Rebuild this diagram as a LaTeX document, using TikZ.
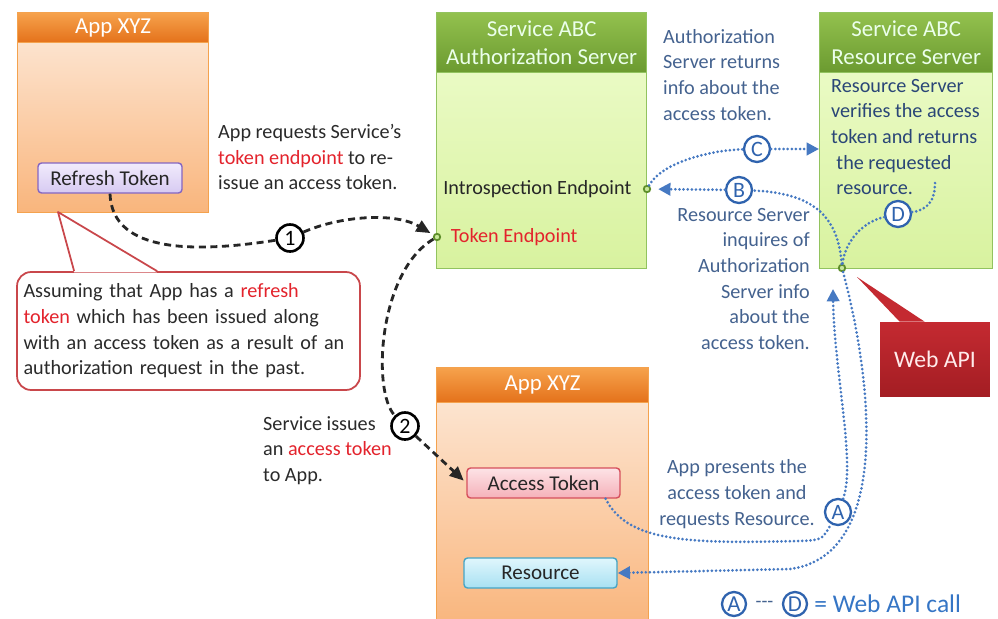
\documentclass[tikz,border=0pt]{standalone}
\usepackage{fontspec}
\setmainfont{Carlito}
\usetikzlibrary{arrows.meta,positioning,calc}
\definecolor{orhead1}{HTML}{F6A24C}
\definecolor{orhead2}{HTML}{E4711A}
\definecolor{orbody1}{HTML}{FDEBDC}
\definecolor{orbody2}{HTML}{F9B57C}
\definecolor{orline}{HTML}{F4A24E}
\definecolor{grhead1}{HTML}{93C14E}
\definecolor{grhead2}{HTML}{6B9A30}
\definecolor{grbody1}{HTML}{EFFDCF}
\definecolor{grbody2}{HTML}{D8F29F}
\definecolor{grline}{HTML}{92C35F}
\definecolor{rtfill1}{HTML}{F1EBFC}
\definecolor{rtfill2}{HTML}{D7CAF2}
\definecolor{rtline}{HTML}{8466C2}
\definecolor{atfill1}{HTML}{FDE3E6}
\definecolor{atfill2}{HTML}{F5B1B9}
\definecolor{atline}{HTML}{D6505D}
\definecolor{rsfill1}{HTML}{E0F6FC}
\definecolor{rsfill2}{HTML}{A8E1F2}
\definecolor{rsline}{HTML}{45A5C6}
\definecolor{notered}{HTML}{C9474B}
\definecolor{tokred}{HTML}{E3232C}
\definecolor{txtgray}{HTML}{2A2A2A}
\definecolor{labblue}{HTML}{44628F}
\definecolor{navy}{HTML}{2A4677}
\definecolor{callblue}{HTML}{4679C2}
\definecolor{circblue}{HTML}{2F63AE}
\definecolor{legblue}{HTML}{3575C5}
\definecolor{apired1}{HTML}{C42A31}
\definecolor{apired2}{HTML}{A31D23}
\definecolor{dotgreen}{HTML}{5E8E2A}
\definecolor{dotfill}{HTML}{C8E89A}
\begin{document}
\begin{tikzpicture}[x=0.02cm, y=-0.02cm,
        every node/.style={font=\fontsize{11.5}{14.6}\selectfont, text=txtgray},
        appbody/.style={draw=orline, line width=0.8pt, top color=orbody1, bottom color=orbody2, anchor=north west, inner sep=0pt},
        apphead/.style={draw=orline, line width=0.8pt, top color=orhead1, bottom color=orhead2, anchor=north, inner sep=0pt, text=white, font=\fontsize{13}{13}\selectfont},
        srvbody/.style={draw=grline, line width=0.8pt, top color=grbody1, bottom color=grbody2, anchor=north west, inner sep=0pt, minimum height=5.12cm},
        srvhead/.style={draw=grline, line width=0.8pt, top color=grhead1, bottom color=grhead2, anchor=north, inner sep=0pt, minimum height=1.2cm, align=center, text=white!92!green, font=\fontsize{13}{15.5}\selectfont},
        tokbox/.style={rounded corners=2pt, line width=0.8pt, minimum height=0.6cm, inner sep=0pt, text=black!85, font=\fontsize{12}{12}\selectfont},
        epdot/.style={circle, draw=dotgreen, fill=dotfill, line width=1pt, minimum size=0.13cm, inner sep=0pt},
        numcirc/.style={circle, draw=black, line width=1.5pt, fill=white, minimum size=0.54cm, inner sep=0pt, text=black, font=\fontsize{12.5}{12}\selectfont},
        letcirc/.style={circle, draw=circblue, line width=1.3pt, fill=white, minimum size=0.52cm, inner sep=0pt, text=circblue, font=\fontsize{12.5}{12}\selectfont},
        flow/.style={draw=black!85, line width=1.6pt, dash pattern=on 4pt off 2.6pt},
        call/.style={draw=callblue, line width=1.7pt, line cap=round, dash pattern=on 0pt off 2.35pt},
        arrowhd/.style={-{Triangle[length=8pt,width=7pt]}, shorten >=2pt},
        callhd/.style={-{Triangle[length=7pt,width=7pt]}}]
        \useasboundingbox (0,0) rectangle (998,619);

        % app boxes
        \node (app1) [appbody, minimum width=3.82cm, minimum height=4cm] at (17,12) {};
        \node (app1h) [apphead, minimum width=3.82cm, minimum height=0.6cm] at (app1.north) {App XYZ};
        \node (app2) [appbody, minimum width=4.24cm, minimum height=5.2cm] at (436,367) {};
        \node (app2h) [apphead, minimum width=4.24cm, minimum height=0.7cm] at (app2.north) {App XYZ};

        % servers
        \node (as) [srvbody, minimum width=4.2cm] at (436,12) {};
        \node (ash) [srvhead, minimum width=4.2cm] at (as.north) {Service ABC\\Authorization Server};
        \node (rs) [srvbody, minimum width=3.46cm] at (819,12) {};
        \node (rsh) [srvhead, minimum width=3.46cm] at (rs.north) {Service ABC\\Resource Server};

        % tokens
        \node (rt) [tokbox, draw=rtline, top color=rtfill1, bottom color=rtfill2, minimum width=2.88cm] at (110,178) {Refresh Token};
        \node (at) [tokbox, draw=atline, top color=atfill1, bottom color=atfill2, minimum width=3.06cm] at (543.5,483) {Access Token};
        \node (res) [tokbox, draw=rsline, top color=rsfill1, bottom color=rsfill2, minimum width=3.06cm] at (540.5,573) {Resource};

        % endpoints
        \node (intro) [epdot] at (647,189) {};
        \node (tokenep) [epdot] at (437,237) {};
        \node (wdot) [epdot] at (842,268) {};
        \node (introtxt) [anchor=east, text=black!85] at ([xshift=-3pt]intro.west) {Introspection Endpoint};
        \node (toktxt) [anchor=west, text=tokred] at ([xshift=2pt]tokenep.east) {Token Endpoint};

        % callout
        \node (note) [draw=notered, line width=1pt, rounded corners=8pt, fill=white, minimum width=6.86cm, minimum height=2.36cm, text width=6.6cm, inner xsep=0.13cm, align=left] at (188.5,331) {Assuming that App has a {\color{tokred}refresh}\\{\color{tokred}token} which has been issued along\\with an access token as a result of an\\authorization request in the past.};
        \coordinate (notetip) at (58,212);
        \fill[white] ([xshift=1.16cm,yshift=-0.7pt]note.north west) -- (notetip) -- ([xshift=2.82cm,yshift=-0.7pt]note.north west) -- cycle;
        \draw[notered, line width=1pt, line join=round] ([xshift=1.16cm]note.north west) -- (notetip) -- ([xshift=2.82cm]note.north west);

        % web api
        \node (api) [top color=apired1, bottom color=apired2, minimum width=2.2cm, minimum height=1.5cm, text=white!92!red, font=\fontsize{13.5}{14}\selectfont] at (935,359.5) {Web API};
        \coordinate (apitip) at (857,277);
        \fill[apired1] (apitip) -- ([xshift=0.4cm]api.north west) -- ([xshift=0.9cm]api.north west) -- cycle;

        % labels
        \node (reqtxt) [anchor=north west, align=left] at (212,118) {App requests Service’s\\{\color{tokred}token endpoint} to re-\\issue an access token.};
        \node (issuetxt) [anchor=north west, align=left] at (257,410) {Service issues\\an {\color{tokred}access token}\\to App.};
        \node (ctxt) [anchor=north west, align=left, text=labblue] at (657,23) {Authorization\\Server returns\\info about the\\access token.};
        \node (dtxt) [anchor=north west, align=left, text=navy] at (825,73) {Resource Server\\verifies the access\\token and returns\\\hspace{3pt}the requested\\\hspace{3pt}resource.};
        \node (btxt) [anchor=north east, align=right, text=labblue] at (816,202) {Resource Server\\inquires of\\Authorization\\Server info\\about the\\access token.};
        \node (atxt) [align=center, text=labblue] at (737,494) {App presents the\\access token and\\requests Resource.};

        % steps
        \node (n1) [numcirc] at (290,238) {1};
        \node (n2) [numcirc] at (405,426) {2};
        \node (cA) [letcirc] at (838,512) {A};
        \node (cB) [letcirc] at (739,190) {B};
        \node (cC) [letcirc] at (757,149) {C};
        \node (cD) [letcirc] at (898,214) {D};

        \draw[flow] (rt.south) .. controls (112,255) and (200,252) .. (n1);
        \draw[flow, arrowhd] (n1) .. controls (340,216) and (395,212) .. (tokenep);
        \draw[flow] (tokenep) .. controls (378,272) and (372,392) .. (n2);
        \draw[flow, arrowhd] (n2) -- (at.west);

        \draw[call] (intro) .. controls (662,162) and (712,150) .. (cC);
        \draw[call, callhd] (cC) -- (cC -| rs.west);
        \draw[call] (wdot) .. controls (838,215) and (812,193) .. (cB);
        \draw[call, callhd, shorten >=4pt] (cB) -- (intro);
        \coordinate (dstart) at (935,183);
        \draw[call] (dstart) .. controls (935,200) and (928,210) .. (cD);
        \draw[call] (cD) .. controls (862,222) and (845,242) .. (wdot);
        \draw[call] ([xshift=-0.3cm]at.south east) .. controls (628,545) and (700,543) .. (800,541) .. controls (822,540) .. (cA);
        \coordinate (aend) at (833,289);
        \draw[call, callhd] (cA) .. controls (856,465) and (834,370) .. (aend);
        \draw[call, callhd] (wdot) .. controls (872,380) and (892,556) .. (790,569) -- (res.east);

        % legend
        \node (legA) [letcirc, minimum size=0.48cm, font=\fontsize{13}{12}\selectfont] at (734,604) {A};
        \node (legD) [letcirc, minimum size=0.48cm, font=\fontsize{13}{12}\selectfont] at (795,604) {D};
        \node (legdash) [inner sep=0pt, text=labblue, font=\fontsize{11}{10}\selectfont] at ($(legA)!0.5!(legD)$) {-{}-{}-};
        \node (legtxt) [right=0pt of legD, text=legblue, font=\fontsize{14.5}{15}\selectfont] {= Web API call};
\end{tikzpicture}
\end{document}
